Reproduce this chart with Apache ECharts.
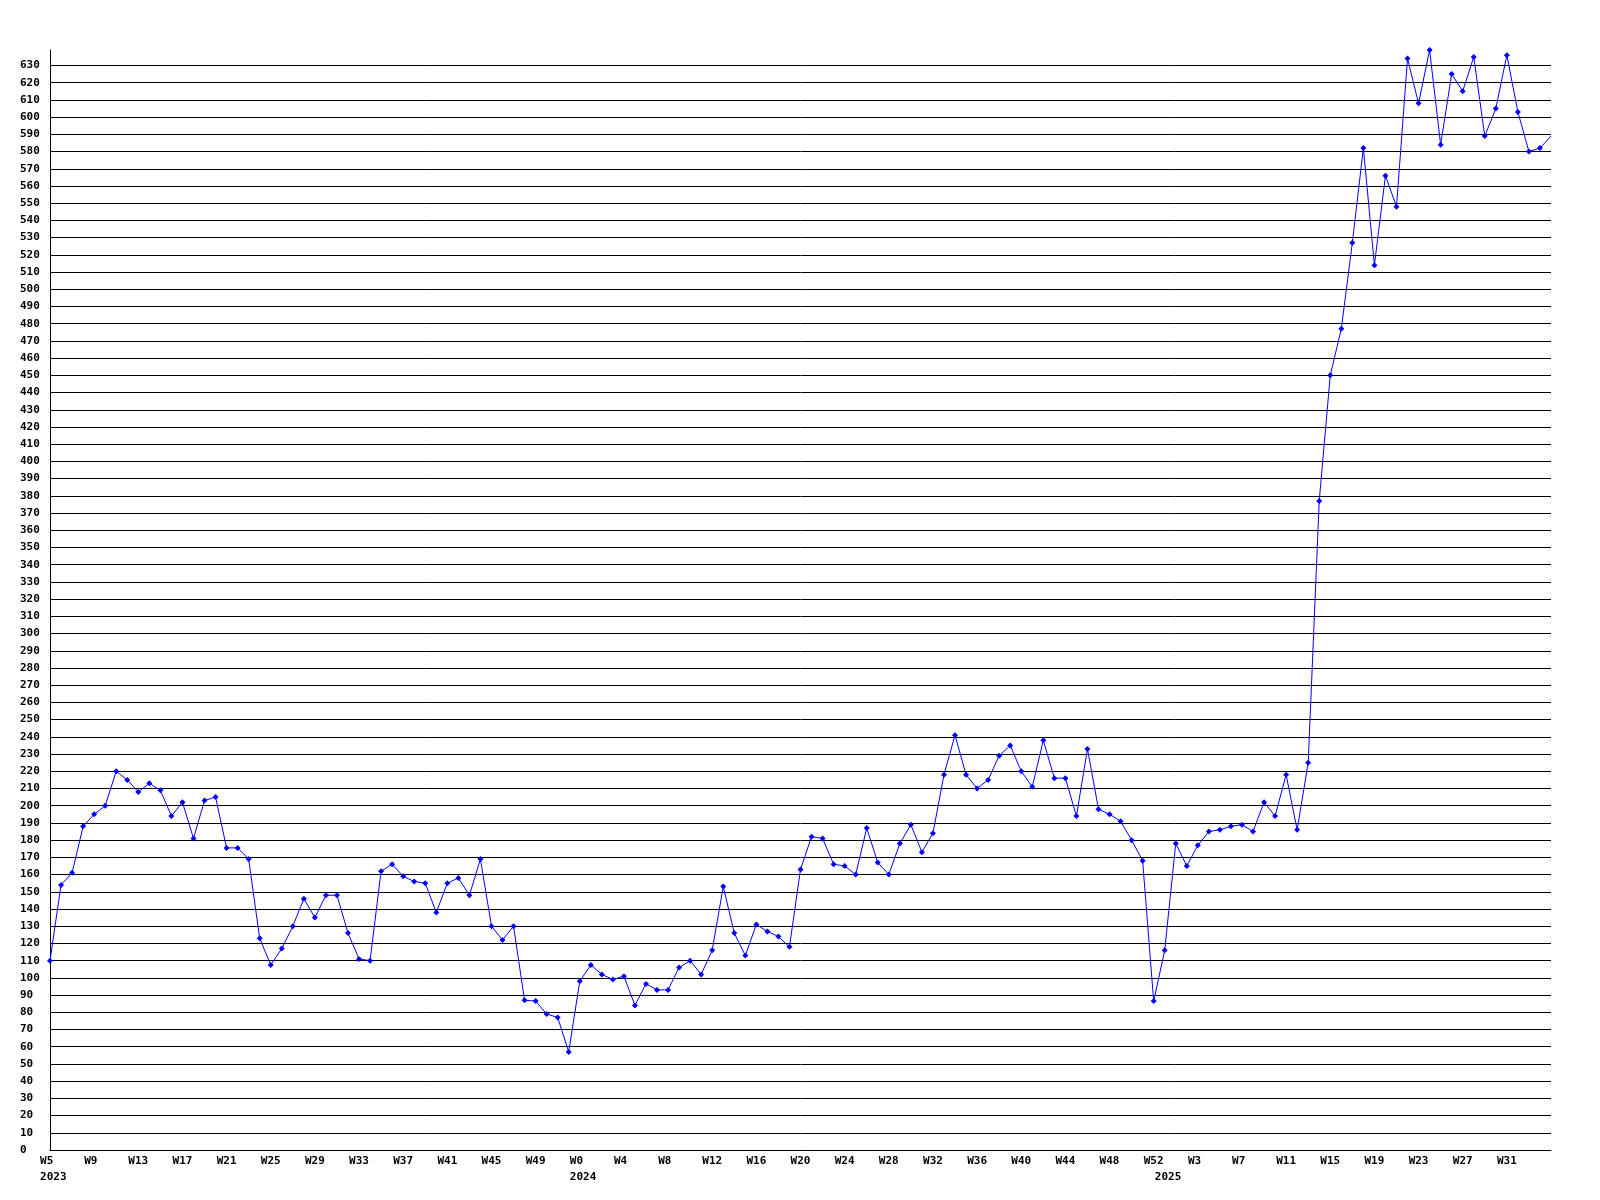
<!DOCTYPE html>
<html>
<head>
<meta charset="utf-8">
<script src="https://cdn.jsdelivr.net/npm/echarts@6/dist/echarts.min.js"></script>
<style>
html,body{margin:0;padding:0;background:#fff;}
#chart{width:1600px;height:1200px;}
</style>
</head>
<body>
<div id="chart"></div>
<script>
// Weekly categories (year-week)
const categories = [
  "2023-W5","2023-W6","2023-W7","2023-W8","2023-W9","2023-W10","2023-W11","2023-W12","2023-W13","2023-W14",
  "2023-W15","2023-W16","2023-W17","2023-W18","2023-W19","2023-W20","2023-W21","2023-W22","2023-W23","2023-W24",
  "2023-W25","2023-W26","2023-W27","2023-W28","2023-W29","2023-W30","2023-W31","2023-W32","2023-W33","2023-W34",
  "2023-W35","2023-W36","2023-W37","2023-W38","2023-W39","2023-W40","2023-W41","2023-W42","2023-W43","2023-W44",
  "2023-W45","2023-W46","2023-W47","2023-W48","2023-W49","2023-W50","2023-W51","2023-W52",
  "2024-W0","2024-W1","2024-W2","2024-W3","2024-W4","2024-W5","2024-W6","2024-W7","2024-W8","2024-W9",
  "2024-W10","2024-W11","2024-W12","2024-W13","2024-W14","2024-W15","2024-W16","2024-W17","2024-W18","2024-W19",
  "2024-W20","2024-W21","2024-W22","2024-W23","2024-W24","2024-W25","2024-W26","2024-W27","2024-W28","2024-W29",
  "2024-W30","2024-W31","2024-W32","2024-W33","2024-W34","2024-W35","2024-W36","2024-W37","2024-W38","2024-W39",
  "2024-W40","2024-W41","2024-W42","2024-W43","2024-W44","2024-W45","2024-W46","2024-W47","2024-W48","2024-W49",
  "2024-W50","2024-W51","2024-W52",
  "2025-W0","2025-W1","2025-W2","2025-W3","2025-W4","2025-W5","2025-W6","2025-W7","2025-W8","2025-W9",
  "2025-W10","2025-W11","2025-W12","2025-W13","2025-W14","2025-W15","2025-W16","2025-W17","2025-W18","2025-W19",
  "2025-W20","2025-W21","2025-W22","2025-W23","2025-W24","2025-W25","2025-W26","2025-W27","2025-W28","2025-W29",
  "2025-W30","2025-W31","2025-W32","2025-W33","2025-W34","2025-W35"
];

// Series values
const values2023 = [
  110,154,161,188,195,200,220,215,208,213,
  209,194,202,181,203,205,175.5,175.5,169,123,
  107.5,117,130,146,135,148,148,126,111,110,
  162,166,159,156,155,138,155,158,148,169,
  130,122,130,87,86.5,79,77,57
];
const values2024 = [
  98,107.5,102,99,101,84,96.5,93,93,106,
  110,102,116,153,126,113,131,127,124,118,
  163,182,181,166,165,160,187,167,160,178,
  189,173,184,218,241,218,210,215,229,235,
  220,211,238,216,216,194,233,198,195,191,
  180,168,86.5
];
const values2025 = [
  116,178,165,177,185,186,188,189,185,202,
  194,218,186,225,377,450,477,527,582,514,
  566,548,634,608,639,584,625,615,635,589,
  605,636,603,580,582,589
];

const years = ["2023","2024","2025"];
const yMin = 0, yMax = 639, yStep = 10;

const values = values2023.concat(values2024, values2025);
const yearStart = years.map(y => categories.findIndex(c => c.startsWith(y + "-")));
const lastIndex = categories.length - 1;

const seriesData = values.map((v, i) => i === lastIndex ? {value: v, symbol: 'none'} : v);

const font = {fontFamily: "DejaVu Sans Mono", fontWeight: "bold", fontSize: 11, color: "#000"};

const chart = echarts.init(document.getElementById('chart'), null, {renderer: 'canvas'});
chart.setOption({
  animation: false,
  backgroundColor: '#fff',
  grid: {left: 50, right: 49, top: 50, bottom: 50, containLabel: false},
  xAxis: [{
    type: 'category',
    data: categories,
    boundaryGap: false,
    position: 'bottom',
    axisLine: {show: true, lineStyle: {color: '#000', width: 1}},
    axisTick: {show: false},
    splitLine: {show: false},
    axisLabel: Object.assign({
      margin: 6,
      interval: (idx) => idx % 4 === 0 && idx < lastIndex,
      formatter: (val) => { const w = val.split('-')[1]; return w.length < 3 ? w + ' ' : w; }
    }, font)
  }, {
    type: 'category',
    data: categories,
    boundaryGap: false,
    position: 'bottom',
    offset: 0,
    axisLine: {show: false},
    axisTick: {show: false},
    splitLine: {show: false},
    axisLabel: Object.assign({
      margin: 22,
      interval: (idx) => yearStart.indexOf(idx) >= 0,
      formatter: (val) => ' ' + val.split('-')[0]
    }, font)
  }],
  yAxis: {
    type: 'value',
    min: yMin,
    max: yMax,
    interval: yStep,
    axisLine: {show: true, lineStyle: {color: '#000', width: 1}},
    axisTick: {show: false},
    splitLine: {show: true, showMaxLine: false, lineStyle: {color: '#000', width: 1}},
    axisLabel: Object.assign({margin: 30, align: 'left', showMaxLabel: false}, font)
  },
  series: [{
    type: 'line',
    xAxisIndex: 0,
    data: seriesData,
    symbol: 'diamond',
    symbolSize: 6,
    showAllSymbol: true,
    lineStyle: {color: '#0000ff', width: 1},
    itemStyle: {color: '#0000ff', borderWidth: 0},
    emphasis: {disabled: true}
  }]
});
</script>
</body>
</html>
